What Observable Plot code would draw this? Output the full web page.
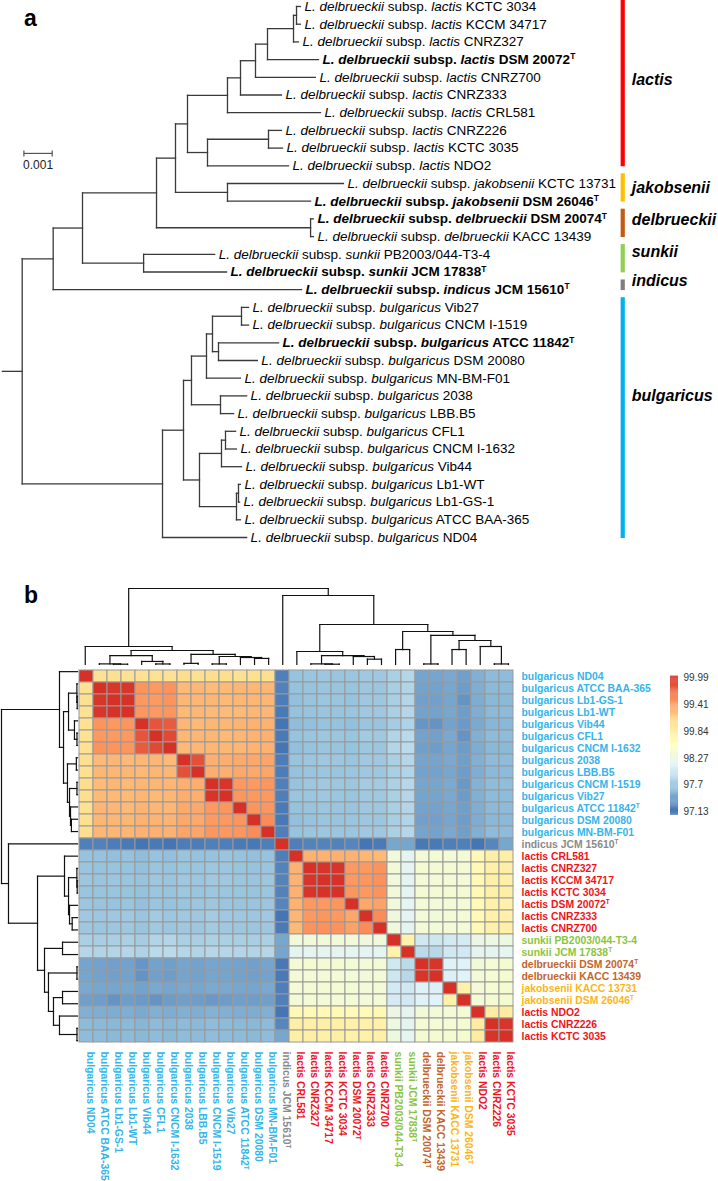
<!DOCTYPE html>
<html><head><meta charset="utf-8">
<script src="https://cdn.jsdelivr.net/npm/d3@7"></script>
<script src="https://cdn.jsdelivr.net/npm/@observablehq/plot@0.6"></script>
<style>
body{margin:0;background:#fff;}
#fig{position:relative;width:718px;height:1181px;overflow:hidden;font-family:"Liberation Sans",Arial,sans-serif;}
.panel{position:absolute;font-weight:bold;font-size:23px;line-height:23px;left:24px;}
</style></head><body><div id="fig"><div class="panel" style="top:6.5px">a</div><div class="panel" style="top:583.5px">b</div></div>
<script>
// ---------------- Panel a : phylogenetic tree ----------------
const treeSubsp = ["lactis","lactis","lactis","lactis","lactis","lactis","lactis","lactis","lactis","lactis",
  "jakobsenii","jakobsenii","delbrueckii","delbrueckii","sunkii","sunkii","indicus",
  "bulgaricus","bulgaricus","bulgaricus","bulgaricus","bulgaricus","bulgaricus","bulgaricus",
  "bulgaricus","bulgaricus","bulgaricus","bulgaricus","bulgaricus","bulgaricus","bulgaricus"];
const treeStrain = ["KCTC 3034","KCCM 34717","CNRZ327","DSM 20072","CNRZ700","CNRZ333","CRL581","CNRZ226","KCTC 3035","NDO2",
  "KCTC 13731","DSM 26046","DSM 20074","KACC 13439","PB2003/044-T3-4","JCM 17838","JCM 15610",
  "Vib27","CNCM I-1519","ATCC 11842","DSM 20080","MN-BM-F01","2038","LBB.B5","CFL1","CNCM I-1632","Vib44",
  "Lb1-WT","Lb1-GS-1","ATCC BAA-365","ND04"];
const treeTypeStrain = [3, 11, 12, 15, 16, 19];
// tip depths (substitutions per site, x 0.001)
const treeTipDepth = [9.83,9.83,9.76,10.47,10.36,9.16,10.54,9.16,9.20,9.41,
  11.35,10.19,10.29,10.29,6.80,7.22,9.87,
  8.00,8.00,9.06,8.31,7.71,7.93,7.47,7.54,7.57,7.75,7.71,7.68,7.71,7.93];
// internal nodes: [depth, child, child]; numbers are leaf indices
const treeTopology = [0,
  [1.095,
    [2.131,
      [4.746,
        [5.417,
          [5.841,
            [7.254,
              [7.714,
                [8.244,
                  [8.668,
                    [9.587, [9.693, 0, 1], 2],
                    3],
                  4],
                5],
              6],
            [6.548, [8.703, 7, 8], 9]],
          [7.254, 10, 11]],
        [10.19, 12, 13]],
      [4.29, 14, 15]],
    16],
  [4.958,
    [5.7,
      [5.982,
        [6.512,
          [6.724, [7.749, 17, 18], [6.936, 19, 20]],
          21],
        [7.007, 22, 23]],
      [6.265,
        [7.042, [7.184, 24, 25], 26],
        [7.572, [7.643, 27, 28], 29]]],
    30]];
const treeRootStub = -0.7;
const scaleBarLength = 1; // = 0.001
const scaleBarLabel = "0.001";
const cladeNames = ["lactis","jakobsenii","delbrueckii","sunkii","indicus","bulgaricus"];
const cladeFirstLeaf = [0,10,12,14,16,17];
const cladeLastLeaf = [9,11,13,15,16,30];
const cladeLabelRow = [4.12,10.23,12.03,13.84,15.48,21.98];
const cladeColors = ["#FF0000","#FFC000","#C55A11","#92D050","#7F7F7F","#00B0F0"];

// ---------------- Panel b : heatmap ----------------
const hmSubsp = ["bulgaricus","bulgaricus","bulgaricus","bulgaricus","bulgaricus","bulgaricus","bulgaricus",
  "bulgaricus","bulgaricus","bulgaricus","bulgaricus","bulgaricus","bulgaricus","bulgaricus","indicus",
  "lactis","lactis","lactis","lactis","lactis","lactis","lactis","sunkii","sunkii","delbrueckii","delbrueckii",
  "jakobsenii","jakobsenii","lactis","lactis","lactis"];
const hmStrain = ["ND04","ATCC BAA-365","Lb1-GS-1","Lb1-WT","Vib44","CFL1","CNCM I-1632","2038","LBB.B5",
  "CNCM I-1519","Vib27","ATCC 11842","DSM 20080","MN-BM-F01","JCM 15610","CRL581","CNRZ327","KCCM 34717",
  "KCTC 3034","DSM 20072","CNRZ333","CNRZ700","PB2003/044-T3-4","JCM 17838","DSM 20074","KACC 13439",
  "KACC 13731","DSM 26046","NDO2","CNRZ226","KCTC 3035"];
const hmType = [11, 14, 19, 23, 24, 27];
const hmLabelColors = {bulgaricus:"#35B5EA", indicus:"#8A8A8A", lactis:"#F0141B", sunkii:"#8BC540", delbrueckii:"#C4652A", jakobsenii:"#FDB515"};
// lower triangle of the similarity matrix (%), rows in heatmap order
const hmLower = [
 [99.99],
 [99.02,99.99],
 [99.03,99.96,99.99],
 [99.02,99.96,99.98,99.99],
 [99.00,99.47,99.45,99.46,99.99],
 [99.01,99.45,99.44,99.45,99.80,99.99],
 [99.02,99.48,99.47,99.46,99.77,99.86,99.99],
 [99.04,99.26,99.27,99.26,99.28,99.27,99.26,99.99],
 [99.03,99.27,99.28,99.27,99.26,99.28,99.27,99.82,99.99],
 [99.05,99.25,99.27,99.26,99.27,99.27,99.28,99.32,99.33,99.99],
 [99.04,99.26,99.26,99.25,99.28,99.26,99.27,99.33,99.32,99.97,99.99],
 [99.02,99.28,99.27,99.26,99.29,99.28,99.27,99.35,99.36,99.45,99.46,99.99],
 [99.03,99.27,99.28,99.27,99.30,99.29,99.29,99.36,99.35,99.44,99.45,99.47,99.99],
 [99.04,99.27,99.28,99.28,99.30,99.31,99.30,99.38,99.37,99.46,99.45,99.46,99.52,99.99],
 [97.20,97.21,97.18,97.16,97.13,97.16,97.13,97.18,97.18,97.20,97.19,97.17,97.15,97.19,99.99],
 [97.64,97.63,97.62,97.63,97.60,97.64,97.62,97.65,97.63,97.64,97.66,97.63,97.62,97.64, 97.19,99.99],
 [97.66,97.64,97.65,97.64,97.62,97.66,97.64,97.67,97.66,97.68,97.67,97.65,97.64,97.66, 97.22,99.30,99.99],
 [97.68,97.66,97.67,97.66,97.64,97.68,97.66,97.69,97.67,97.70,97.69,97.67,97.66,97.68, 97.22,99.30,99.97,99.99],
 [97.66,97.65,97.66,97.65,97.63,97.67,97.65,97.68,97.66,97.68,97.67,97.66,97.65,97.67, 97.21,99.31,99.97,99.98,99.99],
 [97.67,97.65,97.64,97.66,97.62,97.66,97.64,97.66,97.67,97.68,97.66,97.65,97.66,97.67, 97.23,99.30,99.45,99.45,99.46,99.99],
 [97.70,97.68,97.69,97.70,97.66,97.71,97.68,97.70,97.69,97.72,97.70,97.69,97.68,97.70, 97.13,99.28,99.45,99.46,99.45,99.36,99.99],
 [97.69,97.67,97.68,97.69,97.65,97.70,97.67,97.69,97.68,97.71,97.70,97.68,97.67,97.69, 97.17,99.26,99.48,99.49,99.48,99.39,99.52,99.99],
 [97.76,97.74,97.75,97.76,97.73,97.80,97.81,97.76,97.75,97.77,97.76,97.75,97.74,97.76, 97.45,98.33,98.34,98.33,98.34,98.33,98.30,98.32,99.99],
 [97.82,97.80,97.81,97.82,97.79,97.85,97.86,97.82,97.80,97.83,97.82,97.81,97.80,97.82, 97.44,98.15,98.14,98.15,98.14,98.16,98.13,98.14,98.76,99.99],
 [97.43,97.42,97.41,97.42,97.34,97.42,97.40,97.43,97.42,97.44,97.43,97.42,97.41,97.43, 97.15,98.38,98.39,98.38,98.39,98.37,98.36,98.38,97.98,97.86,99.99],
 [97.44,97.42,97.41,97.42,97.33,97.41,97.39,97.43,97.42,97.44,97.43,97.42,97.41,97.42, 97.16,98.37,98.38,98.37,98.38,98.36,98.35,98.37,97.97,97.84,99.97,99.99],
 [97.46,97.45,97.44,97.45,97.42,97.46,97.44,97.46,97.45,97.47,97.46,97.45,97.44,97.46, 97.19,98.38,98.39,98.38,98.39,98.37,98.36,98.38,98.00,97.98,98.07,98.06,99.99],
 [97.40,97.39,97.33,97.39,97.37,97.33,97.38,97.40,97.39,97.36,97.38,97.40,97.39,97.40, 97.20,98.37,98.38,98.37,98.38,98.36,98.36,98.37,98.01,97.99,98.07,98.08,98.78,99.99],
 [97.51,97.50,97.49,97.50,97.47,97.51,97.49,97.51,97.50,97.52,97.51,97.50,97.49,97.51, 97.13,98.66,98.65,98.66,98.65,98.64,98.64,98.66,98.25,98.15,98.35,98.36,98.38,98.37,99.99],
 [97.58,97.57,97.56,97.57,97.55,97.58,97.56,97.58,97.57,97.59,97.58,97.57,97.56,97.58, 97.24,98.80,98.79,98.79,98.79,98.78,98.77,98.78,98.27,98.14,98.40,98.40,98.40,98.41,98.85,99.99],
 [97.59,97.58,97.57,97.58,97.56,97.59,97.57,97.59,97.58,97.60,97.59,97.58,97.57,97.59, 97.45,98.80,98.80,98.79,98.80,98.78,98.77,98.79,98.28,98.16,98.41,98.41,98.41,98.41,98.86,99.97,99.99]
];
// hierarchical clustering (same for rows and columns): [height, child, child]
const hmDendro = [1.0,
  [0.237, 0, [0.184,
      [0.118, [0.008, 1, [0.004, 2, 3]], [0.04, 4, [0.007, 5, 6]]],
      [0.132, [0.015, 7, 8], [0.105, [0.007, 9, 10], [0.092, 11, [0.08, 12, 13]]]]]],
  [0.908, 14,
    [0.526,
      [0.171, 15, [0.118, [0.008, 16, [0.004, 17, 18]], [0.105, 19, [0.07, 20, 21]]]],
      [0.434, [0.197, 22, 23],
        [0.382, [0.007, 24, 25],
          [0.316, [0.197, 26, 27], [0.237, 28, [0.007, 29, 30]]]]]]]];
const colorStops = [97.13, 97.607, 98.083, 98.56, 99.037, 99.513, 99.99];
const colorRamp = ["#4575B4","#91BFDB","#E0F3F8","#FFFFBF","#FEE090","#FC8D59","#D73027"];
const legendTicks = [99.99, 99.42, 98.85, 98.27, 97.70, 97.13];
const legendLabels = ["99.99","99.41","99.84","98.27","97.7","97.13"];

// ---------------- helpers ----------------
const FONT = '"Liberation Sans", Arial, sans-serif';
const NS = "http://www.w3.org/2000/svg";
function richify(svg) {
  svg.querySelectorAll("text").forEach(t => {
    let s = t.textContent;
    if (!/[*^]/.test(s) && !s.startsWith("!")) return;
    if (s.startsWith("!")) { t.setAttribute("font-weight", "bold"); s = s.slice(1); }
    t.textContent = "";
    const add = (txt, attrs) => {
      const ts = document.createElementNS(NS, "tspan");
      ts.textContent = txt;
      for (const k in (attrs || {})) ts.setAttribute(k, attrs[k]);
      t.appendChild(ts);
    };
    const re = /(\*[^*]+\*|\^T)/g;
    let last = 0, m;
    while ((m = re.exec(s))) {
      if (m.index > last) add(s.slice(last, m.index));
      if (m[0] === "^T") add("T", {"font-size": "0.62em", "dy": "-0.55em"});
      else add(m[0].slice(1, -1), {"font-style": "italic"});
      last = re.lastIndex;
    }
    if (last < s.length) add(s.slice(last));
  });
}
function place(svg, left, top) {
  svg.style.position = "absolute";
  svg.style.left = left + "px";
  svg.style.top = top + "px";
  svg.style.background = "transparent";
  svg.style.overflow = "visible";
  svg.style.maxWidth = "none";
  document.getElementById("fig").appendChild(svg);
  richify(svg);
}

// ---------------- tree layout ----------------
const treeSegs = [];
function layoutTree(node) {
  if (typeof node === "number") return {x: treeTipDepth[node], y: node};
  const d = node[0];
  const kids = node.slice(1).map(layoutTree);
  const y0 = kids[0].y, y1 = kids[kids.length - 1].y;
  treeSegs.push({x1: d, x2: d, y1: y0, y2: y1});
  for (const k of kids) treeSegs.push({x1: d, x2: k.x, y1: k.y, y2: k.y});
  return {x: d, y: (y0 + y1) / 2};
}
const treeRoot = layoutTree(treeTopology);
treeSegs.push({x1: treeRootStub, x2: 0, y1: treeRoot.y, y2: treeRoot.y});

const tips = treeStrain.map((st, i) => {
  const t = treeTypeStrain.includes(i);
  return {i, d: treeTipDepth[i],
    label: `${t ? "!" : ""}*L. delbrueckii* subsp. *${treeSubsp[i]}* ${st}${t ? "^T" : ""}`};
});
const clades = cladeNames.map((n, k) => ({name: n, y1: cladeFirstLeaf[k] - 0.55, y2: cladeLastLeaf[k] + 0.05,
  ly: cladeLabelRow[k], color: cladeColors[k]}));
const cladeBarAt = 21.22;
const scaleBar = [{x1: 0.06, x2: 0.06 + scaleBarLength, y: 8.3}];

const treePlot = Plot.plot({
  width: 718, height: 585,
  x: {domain: [0, 1], range: [21.7, 50], axis: null},
  y: {domain: [0, 30], range: [6, 537], axis: null},
  color: {type: "identity"},
  style: {fontFamily: FONT},
  marks: [
    Plot.link(treeSegs, {x1: "x1", x2: "x2", y1: "y1", y2: "y2", stroke: "#3a3a3a", strokeWidth: 1.3, strokeLinecap: "square"}),
    Plot.link(scaleBar, {x1: "x1", x2: "x2", y1: "y", y2: "y", stroke: "#555", strokeWidth: 1.2}),
    Plot.link(scaleBar, {x1: "x1", x2: "x1", y1: d => d.y - 0.17, y2: d => d.y + 0.17, stroke: "#555", strokeWidth: 1.2}),
    Plot.link(scaleBar, {x1: "x2", x2: "x2", y1: d => d.y - 0.17, y2: d => d.y + 0.17, stroke: "#555", strokeWidth: 1.2}),
    Plot.text(scaleBar, {x: d => (d.x1 + d.x2) / 2, y: "y", dy: 12, text: () => scaleBarLabel, fontSize: 12, fill: "#222"}),
    Plot.text(tips, {x: "d", y: "i", text: "label", dx: 4, textAnchor: "start", fontSize: 13.5, fill: "#000"}),
    Plot.ruleX(clades, {x: () => cladeBarAt, y1: "y1", y2: "y2", stroke: "color", strokeWidth: 4.2}),
    Plot.text(clades, {x: () => cladeBarAt, y: "ly", text: "name", dx: 9, textAnchor: "start", fontSize: 16,
      fontWeight: "bold", fontStyle: "italic", fill: "#000"})
  ]
});
place(treePlot, 0, 0);

// ---------------- heatmap ----------------
const hmNames = hmSubsp.map((s, i) => `${s} ${hmStrain[i]}${hmType.includes(i) ? "^T" : ""}`);
const cells = [];
for (let i = 0; i < hmNames.length; i++)
  for (let j = 0; j < hmNames.length; j++)
    cells.push({r: hmNames[i], c: hmNames[j], v: i >= j ? hmLower[i][j] : hmLower[j][i]});
const groups = Object.keys(hmLabelColors);
const colorScale = {type: "linear", domain: colorStops, range: colorRamp, interpolate: "rgb", clamp: true};

const hmPlot = Plot.plot({
  width: 718, height: 596,
  marginTop: 80, marginBottom: 135, marginLeft: 77.7, marginRight: 203,
  x: {domain: hmNames, padding: 0, axis: null},
  y: {domain: hmNames, padding: 0, axis: null},
  color: colorScale,
  style: {fontFamily: FONT},
  marks: [
    Plot.cell(cells, {x: "c", y: "r", fill: "v", stroke: "#999999", strokeWidth: 1}),
    ...groups.map(g => Plot.text(hmNames.filter((n, i) => hmSubsp[i] === g), {y: d => d, text: d => d,
      frameAnchor: "right", textAnchor: "start", dx: 6, fill: hmLabelColors[g], fontWeight: "bold", fontSize: 10.4})),
    ...groups.map(g => Plot.text(hmNames.filter((n, i) => hmSubsp[i] === g), {x: d => d, text: d => d,
      frameAnchor: "bottom", rotate: 90, textAnchor: "start", dy: 5, fill: hmLabelColors[g], fontWeight: "bold", fontSize: 10.4}))
  ]
});
place(hmPlot, 0, 585);

// ---------------- dendrograms ----------------
const dSegs = [];
function layoutDendro(node) {
  if (typeof node === "number") return {p: node + 0.5, h: 0};
  const a = layoutDendro(node[1]), b = layoutDendro(node[2]), h = node[0];
  dSegs.push({p1: a.p, p2: b.p, h1: h, h2: h});
  dSegs.push({p1: a.p, p2: a.p, h1: a.h, h2: h});
  dSegs.push({p1: b.p, p2: b.p, h1: b.h, h2: h});
  return {p: (a.p + b.p) / 2, h};
}
layoutDendro(hmDendro);

const topDendro = Plot.plot({
  width: 718, height: 82,
  x: {domain: [0, 31], range: [77.7, 515], axis: null},
  y: {domain: [0, 1], range: [79, 3], axis: null},
  marks: [Plot.link(dSegs, {x1: "p1", x2: "p2", y1: "h1", y2: "h2", stroke: "#111", strokeWidth: 1.2, strokeLinecap: "square"})]
});
place(topDendro, 0, 585);

const leftDendro = Plot.plot({
  width: 80, height: 392,
  y: {domain: [0, 31], range: [5, 386.3], axis: null},
  x: {domain: [0, 1], range: [77, 1], axis: null},
  marks: [Plot.link(dSegs, {y1: "p1", y2: "p2", x1: "h1", x2: "h2", stroke: "#111", strokeWidth: 1.2, strokeLinecap: "square"})]
});
place(leftDendro, 0, 660);

// ---------------- legend ----------------
const legendRamp = d3.range(97.05, 100.01, 0.02);
const legendPlot = Plot.plot({
  width: 60, height: 170,
  x: {domain: [0, 1], range: [15, 23], axis: null},
  y: {domain: [97.13, 99.99], range: [151, 17.7], axis: null},
  color: colorScale,
  style: {fontFamily: FONT},
  marks: [
    Plot.rect(legendRamp, {x1: 0, x2: 1, y1: d => d, y2: d => d + 0.025, fill: d => d}),
    Plot.text(legendTicks, {x: 1, y: d => d, text: (d, i) => legendLabels[i], dx: 5, textAnchor: "start", fontSize: 10, fill: "#333"})
  ]
});
place(legendPlot, 655, 660);
</script></body></html>
